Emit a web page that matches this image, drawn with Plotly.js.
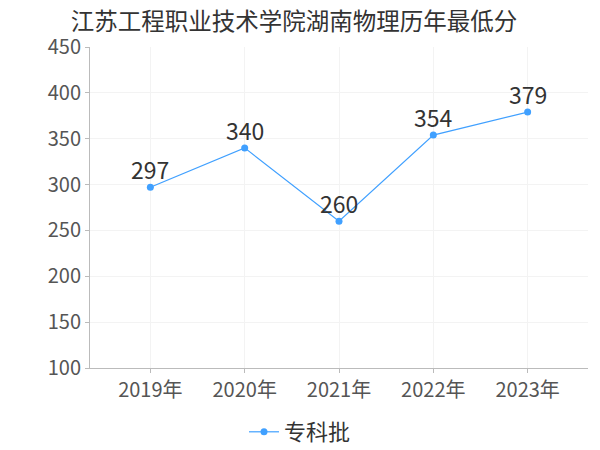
<!DOCTYPE html>
<html>
<head>
<meta charset="utf-8">
<script src="https://cdn.plot.ly/plotly-3.0.1.min.js"></script>
<style>html,body{margin:0;padding:0;background:#fff;}#chart{width:600px;height:450px;}</style>
</head>
<body>
<div id="chart"></div>
<script>
const years = ["2019年", "2020年", "2021年", "2022年", "2023年"];
const scores = [297, 340, 260, 354, 379];
const seriesName = "专科批";
const chartTitle = "江苏工程职业技术学院湖南物理历年最低分";
const yTicks = [100, 150, 200, 250, 300, 350, 400, 450];

const font = '"Noto Sans CJK SC", "Noto Sans", sans-serif';

const labels = years.map((yr, i) => ({
  x: yr, y: scores[i], xref: 'x', yref: 'y',
  text: String(scores[i]), showarrow: false,
  xanchor: 'center', yanchor: 'bottom', yshift: -1,
  font: {family: font, size: 23, color: '#333'}
}));

Plotly.newPlot('chart', [{
  type: 'scatter',
  mode: 'lines+markers',
  x: years,
  y: scores,
  name: seriesName,
  line: {color: '#40a0ff', width: 1.2},
  marker: {color: '#40a0ff', size: 7},
  cliponaxis: false
}], {
  width: 600, height: 450,
  paper_bgcolor: '#fff', plot_bgcolor: '#fff',
  margin: {l: 90, r: 12, t: 47, b: 82, autoexpand: false},
  title: {text: chartTitle, font: {family: font, size: 23.5, color: '#333'}, x: 0.49, xanchor: 'center', y: 0.952, yanchor: 'middle'},
  annotations: labels,
  xaxis: {
    type: 'category',
    range: [-0.64, 4.64],
    showline: true, linecolor: '#bbb', linewidth: 1,
    ticks: 'outside', ticklen: 4, tickcolor: '#bbb',
    showgrid: true, gridcolor: '#f3f3f3',
    tickfont: {family: font, size: 20, color: '#555'},
    zeroline: false
  },
  yaxis: {
    range: [100, 450],
    tickvals: yTicks,
    showline: true, linecolor: '#bbb', linewidth: 1,
    ticks: 'outside', ticklen: 4, tickcolor: '#bbb',
    showgrid: true, gridcolor: '#f3f3f3',
    tickfont: {family: font, size: 20, color: '#555'},
    zeroline: false
  },
  showlegend: true,
  legend: {orientation: 'h', x: 0.5, xref: 'container', xanchor: 'center', y: 0.04, yref: 'container', yanchor: 'middle',
           font: {family: font, size: 22, color: '#333'}}
}, {displayModeBar: false, staticPlot: true});
</script>
</body>
</html>
